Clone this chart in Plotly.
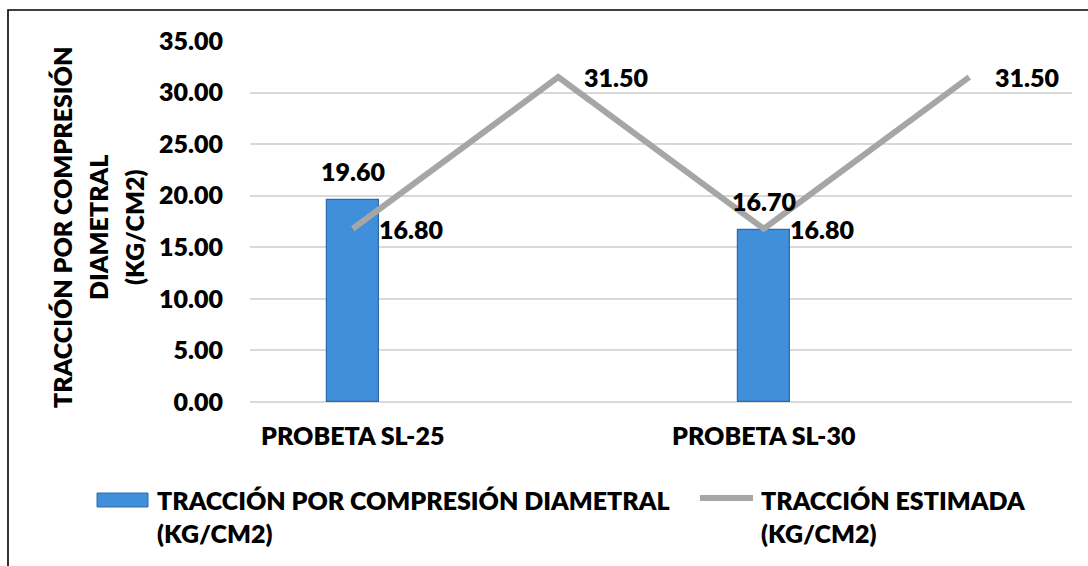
import plotly.graph_objects as go

# Category slots along the x axis (two tested specimens, two estimate slots)
categories = ["PROBETA SL-25", "", "PROBETA SL-30", ""]
traccion_diametral = [19.60, None, 16.70, None]
traccion_estimada = [16.80, 31.50, 16.80, 31.50]
y_ticks = [0, 5, 10, 15, 20, 25, 30, 35]

bar_name = "TRACCIÓN POR COMPRESIÓN DIAMETRAL<br>(KG/CM2)"
line_name = "TRACCIÓN ESTIMADA<br>(KG/CM2)"
y_title_lines = ["TRACCIÓN POR COMPRESIÓN", "DIAMETRAL", "(KG/CM2)"]

W, H = 1088, 566
ML, MR, MT, MB = 250, 16, 41, 164
PW, PH = W - ML - MR, H - MT - MB

FONT = "Lato, 'Open Sans', sans-serif"
FS = 25
WEIGHT = 800
BAR_COLOR = "#3f8fda"
BAR_EDGE = "#2d6aa8"
LINE_COLOR = "#a6a6a6"


def px_x(px):
    return (px - ML) / PW


def px_y(py):
    return (H - MB - py) / PH


x_idx = list(range(len(categories)))

fig = go.Figure()
fig.add_trace(go.Bar(
    x=x_idx, y=traccion_diametral, width=0.253,
    marker=dict(color=BAR_COLOR, line=dict(color=BAR_EDGE, width=1.2)),
    showlegend=False, hoverinfo="y",
))
fig.add_trace(go.Scatter(
    x=x_idx, y=traccion_estimada, mode="lines",
    line=dict(color=LINE_COLOR, width=6),
    showlegend=False, hoverinfo="y",
))

annotations = []
for i, v in enumerate(traccion_diametral):
    if v is not None:
        annotations.append(dict(x=i, y=v, xref="x", yref="y", text=f"{v:.2f}",
                                showarrow=False, yshift=29, xanchor="center",
                                yanchor="middle"))
for i, v in enumerate(traccion_estimada):
    annotations.append(dict(x=i, y=v, xref="x", yref="y", text=f"{v:.2f}",
                            showarrow=False, xshift=24, xanchor="left",
                            yanchor="middle"))

# Rotated y-axis title, one annotation per line
for line_txt, cx in zip(y_title_lines, [62, 98, 134]):
    annotations.append(dict(x=px_x(cx), y=px_y(228), xref="paper", yref="paper",
                            text=line_txt, textangle=-90, showarrow=False,
                            xanchor="center", yanchor="middle"))

# Legend entries
annotations.append(dict(x=px_x(155), y=px_y(516), xref="paper", yref="paper",
                        text=bar_name, showarrow=False, xanchor="left",
                        yanchor="middle", align="left"))
annotations.append(dict(x=px_x(759), y=px_y(516), xref="paper", yref="paper",
                        text=line_name, showarrow=False, xanchor="left",
                        yanchor="middle", align="left"))

shapes = [
    # chart frame
    dict(type="rect", xref="paper", yref="paper",
         x0=px_x(8), x1=px_x(1100), y0=px_y(580), y1=px_y(10),
         line=dict(color="#000000", width=1.6), fillcolor="rgba(0,0,0,0)",
         layer="above"),
    # legend symbol: bar
    dict(type="rect", xref="paper", yref="paper",
         x0=px_x(97), x1=px_x(148), y0=px_y(507), y1=px_y(493),
         line=dict(color=BAR_EDGE, width=1), fillcolor=BAR_COLOR),
    # legend symbol: line
    dict(type="line", xref="paper", yref="paper",
         x0=px_x(700), x1=px_x(753), y0=px_y(498), y1=px_y(498),
         line=dict(color=LINE_COLOR, width=6)),
]

fig.update_layout(
    width=W, height=H,
    margin=dict(l=ML, r=MR, t=MT, b=MB, pad=0),
    paper_bgcolor="white", plot_bgcolor="white",
    font=dict(family=FONT, size=FS, color="#000000", weight=WEIGHT),
    showlegend=False,
    bargap=0,
    annotations=annotations,
    shapes=shapes,
)
fig.update_xaxes(
    range=[-0.5, len(categories) - 0.5],
    tickvals=x_idx, ticktext=categories,
    showgrid=False, zeroline=False, showline=False, ticks="",
    ticklabelstandoff=17,
    tickfont=dict(family=FONT, size=FS, weight=WEIGHT),
)
fig.update_yaxes(
    range=[0, 35], tickvals=y_ticks, tickformat=".2f",
    showgrid=True, gridcolor="#d9d9d9", gridwidth=1.5,
    zeroline=True, zerolinecolor="#d9d9d9", zerolinewidth=1.5,
    showline=False, ticks="", ticklabelstandoff=26,
    tickfont=dict(family=FONT, size=FS, weight=WEIGHT),
)

fig.write_html("out.html")
